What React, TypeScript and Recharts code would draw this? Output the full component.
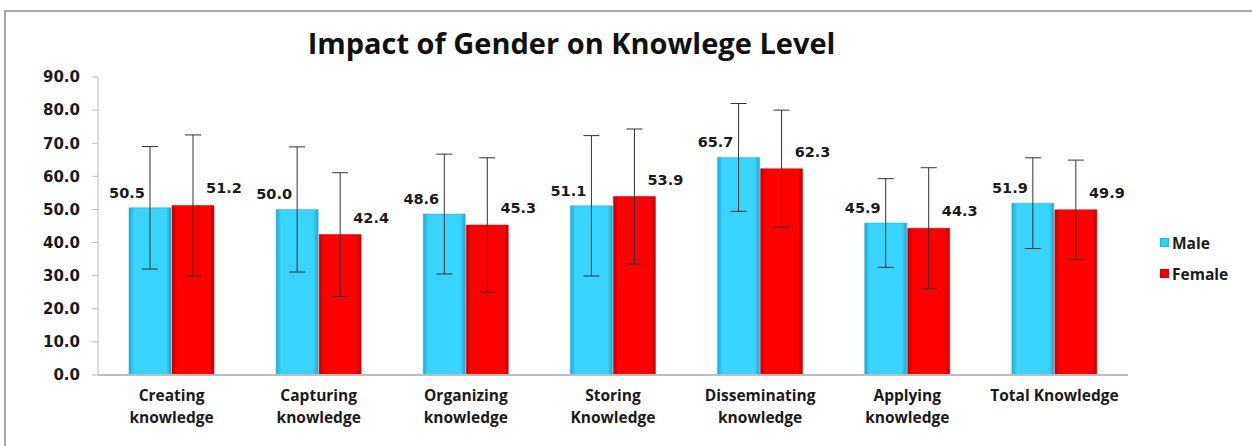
import { BarChart, Bar, XAxis, YAxis, ErrorBar, LabelList } from 'recharts';

const categories = [
    'Creating\nknowledge',
    'Capturing\nknowledge',
    'Organizing\nknowledge',
    'Storing\nKnowledge',
    'Disseminating\nknowledge',
    'Applying\nknowledge',
    'Total Knowledge',
];
const maleMeans = [50.5, 50.0, 48.6, 51.1, 65.7, 45.9, 51.9];
const femaleMeans = [51.2, 42.4, 45.3, 53.9, 62.3, 44.3, 49.9];
const maleSD = [18.5, 18.9, 18.1, 21.2, 16.3, 13.4, 13.7];
const femaleSD = [21.3, 18.7, 20.3, 20.4, 17.7, 18.3, 15.0];
const yTicks = [0, 10, 20, 30, 40, 50, 60, 70, 80, 90];

const data = categories.map((name, i) => ({
    name,
    male: maleMeans[i],
    female: femaleMeans[i],
    maleSD: maleSD[i],
    femaleSD: femaleSD[i],
}));

const numFont = '"DejaVu Sans", sans-serif';
const textFont = '"Open Sans", sans-serif';

function CategoryTick({ x, y, payload }: any) {
    const lines = String(payload.value).split('\n');
    return (
        <text x={x} y={y} textAnchor="middle" fontFamily={textFont} fontWeight={700} fontSize={15.5} fill="#1a1a1a">
            {lines.map((l, i) => (
                <tspan key={i} x={x} dy={i === 0 ? 18 : 22}>{l}</tspan>
            ))}
        </text>
    );
}

function maleLabel(props: any) {
    const { x, y, value } = props;
    return (
        <text x={x - 2} y={y - 10} textAnchor="middle" fontFamily={numFont} fontWeight={700} fontSize={14.5} fill="#1a1a1a">
            {value.toFixed(1)}
        </text>
    );
}

function femaleLabel(props: any) {
    const { x, y, width, value } = props;
    return (
        <text x={x + width + 10} y={y - 12} textAnchor="middle" fontFamily={numFont} fontWeight={700} fontSize={14.5} fill="#1a1a1a">
            {value.toFixed(1)}
        </text>
    );
}

function LegendBox() {
    const items = [
        { label: 'Male', solid: '#33cfff' },
        { label: 'Female', solid: '#ee0000' },
    ];
    return (
        <div style={{ position: 'absolute', left: 1160, top: 227, fontFamily: textFont, fontWeight: 700, fontSize: 15.5, color: '#1a1a1a' }}>
            {items.map((it) => (
                <div key={it.label} style={{ display: 'flex', alignItems: 'center', height: 31 }}>
                    <span style={{ display: 'inline-block', width: 9, height: 9, background: it.solid, marginRight: 3, boxShadow: 'inset 0 0 2px rgba(0,0,0,0.4)' }} />
                    {it.label}
                </div>
            ))}
        </div>
    );
}

export default function App() {
    return (
        <div style={{ position: 'relative', width: 1252, height: 446, background: '#fff', overflow: 'hidden' }}>
            <style>{'body{margin:0}'}</style>
            <div style={{ position: 'absolute', left: 4, top: 10, width: 1300, height: 500, border: '2px solid #a6a6a6' }} />
            <div style={{ position: 'absolute', left: 0, top: 23, width: 1143, textAlign: 'center', fontFamily: textFont, fontWeight: 700, fontSize: 29, color: '#111' }}>
                Impact of Gender on Knowlege Level
            </div>
            <div style={{ position: 'absolute', left: 0, top: 0 }}>
                <BarChart width={1252} height={446} data={data} margin={{ top: 77, right: 124, bottom: 0, left: 0 }} barGap={1} barSize={42}>
                    <defs>
                        <linearGradient id="maleGrad" x1="0" y1="0" x2="1" y2="0">
                            <stop offset="0%" stopColor="#1ba9d6" />
                            <stop offset="12%" stopColor="#38d4fc" />
                            <stop offset="88%" stopColor="#38d4fc" />
                            <stop offset="100%" stopColor="#1ba9d6" />
                        </linearGradient>
                        <linearGradient id="femaleGrad" x1="0" y1="0" x2="1" y2="0">
                            <stop offset="0%" stopColor="#c40000" />
                            <stop offset="12%" stopColor="#ff0000" />
                            <stop offset="88%" stopColor="#ff0000" />
                            <stop offset="100%" stopColor="#c40000" />
                        </linearGradient>
                    </defs>
                    <XAxis
                        dataKey="name"
                        interval={0}
                        height={71}
                        tickLine={false}
                        axisLine={{ stroke: '#bdbdbd', strokeWidth: 2 }}
                        tick={<CategoryTick />}
                    />
                    <YAxis
                        domain={[0, 90]}
                        ticks={yTicks}
                        width={98}
                        tickSize={6}
                        tickMargin={12}
                        axisLine={{ stroke: '#bdbdbd' }}
                        tickLine={{ stroke: '#bdbdbd' }}
                        tickFormatter={(v: number) => v.toFixed(1)}
                        tick={{ fontFamily: numFont, fontWeight: 700, fontSize: 15, fill: '#1a1a1a' }}
                    />
                    <Bar dataKey="male" name="Male" fill="url(#maleGrad)" stroke="#2aa8cc" strokeWidth={0.5} isAnimationActive={false}>
                        <ErrorBar dataKey="maleSD" width={8} stroke="#333" strokeWidth={1} direction="y" />
                        <LabelList dataKey="male" content={maleLabel} />
                    </Bar>
                    <Bar dataKey="female" name="Female" fill="url(#femaleGrad)" stroke="#c00000" strokeWidth={0.5} isAnimationActive={false}>
                        <ErrorBar dataKey="femaleSD" width={8} stroke="#333" strokeWidth={1} direction="y" />
                        <LabelList dataKey="female" content={femaleLabel} />
                    </Bar>
                </BarChart>
            </div>
            <LegendBox />
        </div>
    );
}
